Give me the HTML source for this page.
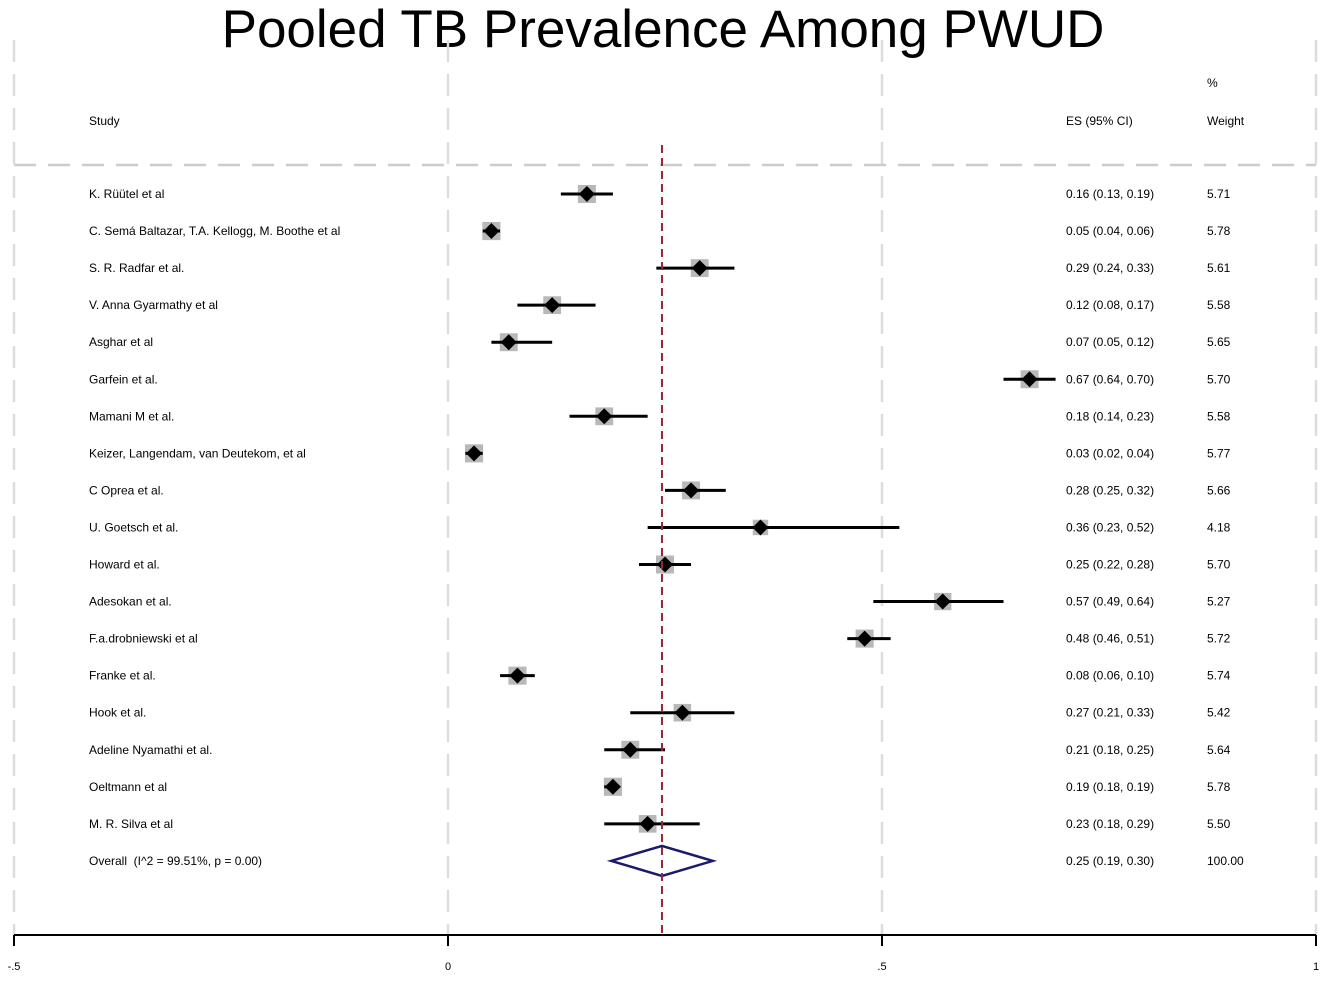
<!DOCTYPE html>
<html><head><meta charset="utf-8"><style>
body{margin:0;background:#fff}
svg text{font-family:"Liberation Sans",Arial,sans-serif;white-space:pre}
</style></head><body>
<svg id="c" width="1325" height="982" xmlns="http://www.w3.org/2000/svg">
<text x="663" y="47" text-anchor="middle" font-size="53" fill="#000">Pooled TB Prevalence Among PWUD</text>
<g id="grid"></g>
<line x1="14" y1="165" x2="1316" y2="165" stroke="#ccc" stroke-width="2.5" stroke-dasharray="22,12"/>
<text x="1207" y="87" font-size="12">%</text>
<text x="89" y="125" font-size="12">Study</text>
<text x="1066" y="125" font-size="12">ES (95% CI)</text>
<text x="1207" y="125" font-size="12">Weight</text>
<g id="rows"></g>
<g id="axis"></g>
</svg>
<script>
const studies=["K. Rüütel et al","C. Semá Baltazar, T.A. Kellogg, M. Boothe et al","S. R. Radfar et al.","V. Anna Gyarmathy et al","Asghar et al","Garfein et al.","Mamani M et al.","Keizer, Langendam, van Deutekom, et al","C Oprea et al.","U. Goetsch et al.","Howard et al.","Adesokan et al.","F.a.drobniewski et al","Franke et al.","Hook et al.","Adeline Nyamathi et al.","Oeltmann et al","M. R. Silva et al"];
const es=[0.16,0.05,0.29,0.12,0.07,0.67,0.18,0.03,0.28,0.36,0.25,0.57,0.48,0.08,0.27,0.21,0.19,0.23];
const lo=[0.13,0.04,0.24,0.08,0.05,0.64,0.14,0.02,0.25,0.23,0.22,0.49,0.46,0.06,0.21,0.18,0.18,0.18];
const hi=[0.19,0.06,0.33,0.17,0.12,0.70,0.23,0.04,0.32,0.52,0.28,0.64,0.51,0.10,0.33,0.25,0.19,0.29];
const weights=["5.71","5.78","5.61","5.58","5.65","5.70","5.58","5.77","5.66","4.18","5.70","5.27","5.72","5.74","5.42","5.64","5.78","5.50"];
const overall=[0.2465,0.188,0.305];
const overallLabel="Overall  (I^2 = 99.51%, p = 0.00)";
const overallText="0.25 (0.19, 0.30)";
const ticks=[-0.5,0,0.5,1];
const tickLabels=["-.5","0",".5","1"];
const X=v=>448+v*868;
const Y=i=>194+i*37.05;
const NS="http://www.w3.org/2000/svg";
function mk(t,a,p){const e=document.createElementNS(NS,t);for(const k in a)e.setAttribute(k,a[k]);p.appendChild(e);return e;}
const grid=document.getElementById('grid'),rows=document.getElementById('rows'),axis=document.getElementById('axis');
ticks.forEach((t,i)=>{
 const l=mk('line',{x1:X(t),x2:X(t),y1:40,y2:935,stroke:'#ddd','stroke-width':2.5,'stroke-dasharray':'22,12'},grid);
 
 
});
const f=(v)=>v.toFixed(2);
studies.forEach((s,i)=>{
 const y=Y(i);
 const g=mk('g',{},rows);
 
 
 const t=mk('text',{x:89,y:y+4,'font-size':12},g);t.textContent=s;
 
 
 const h=9*Math.sqrt(parseFloat(weights[i])/5.7);
 const b=mk('rect',{x:X(es[i])-h,y:y-h,width:2*h,height:2*h,fill:'#b8b8b8'},g);
 
 
 const ci=mk('line',{x1:X(lo[i]),x2:X(hi[i]),y1:y,y2:y,stroke:'#000','stroke-width':3},g);
 
 
 const cx=X(es[i]);
 const d=mk('polygon',{points:`${cx-8},${y} ${cx},${y-8} ${cx+8},${y} ${cx},${y+8}`,fill:'#000'},g);
 
 
 const e=mk('text',{x:1066,y:y+4,'font-size':12},g);e.textContent=`${f(es[i])} (${f(lo[i])}, ${f(hi[i])})`;
 
 
 const w=mk('text',{x:1207,y:y+4,'font-size':12},g);w.textContent=weights[i];
 
 
});
const oy=Y(studies.length);
const ot=mk('text',{x:89,y:oy+4,'font-size':12},rows);ot.textContent=overallLabel;


const od=mk('polygon',{points:`${X(overall[1])},${oy} ${X(overall[0])},${oy-15} ${X(overall[2])},${oy} ${X(overall[0])},${oy+15}`,fill:'none',stroke:'#1a1a6e','stroke-width':2.5},rows);


const oe=mk('text',{x:1066,y:oy+4,'font-size':12},rows);oe.textContent=overallText;


const ow=mk('text',{x:1207,y:oy+4,'font-size':12},rows);ow.textContent="100.00";


const rl=mk('line',{x1:X(overall[0]),x2:X(overall[0]),y1:145,y2:935,stroke:'#9b2335','stroke-width':2,'stroke-dasharray':'8,5'},rows);


const al=mk('line',{x1:X(-0.5),x2:X(1),y1:935,y2:935,stroke:'#000','stroke-width':2},axis);


ticks.forEach((t,i)=>{
 const tk=mk('line',{x1:X(t),x2:X(t),y1:935,y2:946,stroke:'#000','stroke-width':2},axis);
 
 
 const tl=mk('text',{x:X(t),y:970,'font-size':11,'text-anchor':'middle'},axis);tl.textContent=tickLabels[i];
 
 
});
</script>
</body></html>
